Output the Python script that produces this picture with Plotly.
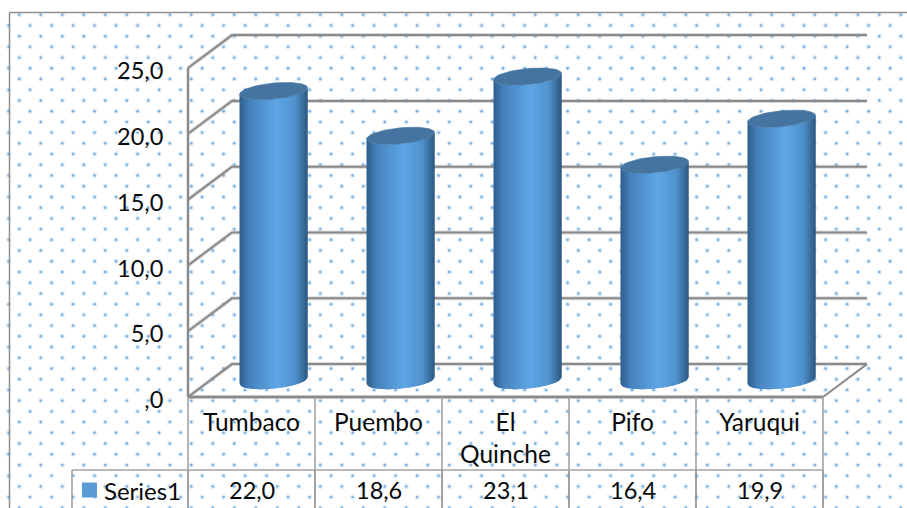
import numpy as np
import plotly.graph_objects as go

# Chart data
categories = ["Tumbaco", "Puembo", "El<br>Quinche", "Pifo", "Yaruqui"]
values = [22.0, 18.6, 23.1, 16.4, 19.9]
value_labels = ["22,0", "18,6", "23,1", "16,4", "19,9"]
series_name = "Series1"
y_ticks = [0, 5, 10, 15, 20, 25]
y_tick_labels = [",0", "5,0", "10,0", "15,0", "20,0", "25,0"]

# Canvas and plot geometry (pixels)
W, H = 907, 508
LEFT, FLOOR = 188, 397
PX_X, PX_Y = 127.0, 13.16
DEPTH_X, DEPTH_Y = 44 / PX_X, 2.5
N = len(categories)
YMAX = 25

FONT = "Lato, Carlito, Calibri, sans-serif"
TEXT = "#0a0a0a"
LINE = "#8a8a8a"
TABLE = "#a3a3a3"


def data_x(px):
    return (np.asarray(px, dtype=float) - LEFT) / PX_X


def data_y(py):
    return (FLOOR - np.asarray(py, dtype=float)) / PX_Y


fig = go.Figure()


def polyline(xs, ys, color, width):
    fig.add_trace(go.Scatter(x=xs, y=ys, mode="lines", hoverinfo="skip",
                             showlegend=False, line=dict(color=color, width=width)))


# Dotted chart-area fill: staggered rows of small soft dots
dot_x, dot_y = [], []
for r in range(48):
    py = 14.7 + 10.72 * r
    if py > H + 2:
        break
    start = 19.3 if r % 2 == 0 else 30.1
    for c in range(-1, 44):
        px = start + 21.5 * c
        if 8 < px < W + 2:
            dot_x.append(px)
            dot_y.append(py)
dx_data, dy_data = data_x(dot_x), data_y(dot_y)
fig.add_trace(go.Scatter(x=dx_data, y=dy_data, mode="markers", hoverinfo="skip",
                         showlegend=False, marker=dict(size=5, color="rgba(125,185,235,0.28)", line_width=0)))
fig.add_trace(go.Scatter(x=dx_data, y=dy_data, mode="markers", hoverinfo="skip",
                         showlegend=False, marker=dict(size=2.4, color="#78aede", line_width=0)))

# Outer chart border
polyline(data_x([9.5, 9.5]), data_y([H, 12.5]), "#8f8f8f", 1.5)
polyline(data_x([9.5, W]), data_y([12.5, 12.5]), "#8f8f8f", 1.5)

# Back-wall gridlines and side-wall diagonals
for v in y_ticks:
    polyline([0, DEPTH_X, N + DEPTH_X], [v, v + DEPTH_Y, v + DEPTH_Y], "rgba(150,150,150,0.35)", 4)
    polyline([0, DEPTH_X, N + DEPTH_X], [v, v + DEPTH_Y, v + DEPTH_Y], LINE, 2)

# Floor edge and front value axis
polyline([0, 0], [YMAX, 0], LINE, 2.5)
polyline([0, N], [0, 0], LINE, 3)
polyline([N, N + DEPTH_X], [0, DEPTH_Y], LINE, 2)

# Data table grid
row_y = float(data_y(470))
bottom_y = float(data_y(H + 2))
for i in range(N + 1):
    polyline([i, i], [0, row_y], TABLE, 1.6)
    polyline([i, i], [row_y, bottom_y], "#8a8a8a", 1.6)
key_x = float(data_x(72))
polyline([key_x, N], [row_y, row_y], TABLE, 1.6)
polyline([key_x, key_x], [row_y, bottom_y], TABLE, 1.6)

# Cylinders: a shaded body painted as overlapping strips, then an elliptical cap
STRIPS = 68
RX = 34 / PX_X
RY = 8.0 / PX_Y
SHEAR = 3.2 / PX_Y
STOPS = [(0.0, (46, 94, 140)), (0.15, (70, 130, 190)), (0.55, (95, 166, 230)),
         (0.82, (80, 145, 205)), (1.0, (44, 88, 128))]


def shade(t):
    pos = [s[0] for s in STOPS]
    rgb = [float(np.interp(t, pos, [s[1][k] for s in STOPS])) for k in range(3)]
    return "rgb(%d,%d,%d)" % tuple(round(c) for c in rgb)


def lower_arc(u, base):
    return base + SHEAR * u - RY * np.sqrt(np.clip(1 - u * u, 0, 1))


edges = np.linspace(-1, 1, STRIPS + 1)
for s in range(STRIPS):
    # Each strip runs past the next one's start so that no seams show through
    u0, u1 = edges[s], edges[min(s + 2, STRIPS)]
    color = shade((s + 0.5) / STRIPS)
    xs, ys = [], []
    for i, v in enumerate(values):
        cx = i + 0.5 + DEPTH_X / 2
        base = DEPTH_Y / 2
        top = v + DEPTH_Y / 2
        xs += [cx + RX * u0, cx + RX * u1, cx + RX * u1, cx + RX * u0, None]
        ys += [lower_arc(u0, base), lower_arc(u1, base), lower_arc(u1, top), lower_arc(u0, top), None]
    fig.add_trace(go.Scatter(x=xs, y=ys, mode="lines", fill="toself", fillcolor=color,
                             hoverinfo="skip", showlegend=False, line=dict(color=color, width=0)))

theta = np.linspace(0, 2 * np.pi, 73)
for i, v in enumerate(values):
    cx = i + 0.5 + DEPTH_X / 2
    top = v + DEPTH_Y / 2
    fig.add_trace(go.Scatter(x=cx + RX * np.cos(theta),
                             y=top + SHEAR * np.cos(theta) + RY * np.sin(theta),
                             mode="lines", fill="toself", fillcolor="#44749f",
                             hoverinfo="skip", showlegend=False, line=dict(color="#44749f", width=0.6)))

# Legend key in the data table
fig.add_trace(go.Scatter(x=data_x([89.5]), y=data_y([490]), mode="markers", hoverinfo="skip",
                         showlegend=False, marker=dict(symbol="square", size=15, color="#5b9bd5", line_width=0)))

annotations = [dict(x=float(data_x(101.5)), y=float(data_y(490)), text=series_name, xref="x", yref="y",
                    xanchor="left", yanchor="middle", showarrow=False,
                    font=dict(family=FONT, size=24, color=TEXT))]
for i, label in enumerate(value_labels):
    annotations.append(dict(x=i + 0.5, y=float(data_y(490)), text=label, xref="x", yref="y",
                            xanchor="center", yanchor="middle", showarrow=False,
                            font=dict(family=FONT, size=23.5, color=TEXT)))

fig.update_layout(
    width=W, height=H, autosize=False,
    margin=dict(l=0, r=0, t=0, b=0),
    paper_bgcolor="white", plot_bgcolor="rgba(0,0,0,0)",
    showlegend=False, annotations=annotations,
    font=dict(family=FONT, color=TEXT),
    xaxis=dict(domain=[0, 1], range=[float(data_x(0)), float(data_x(W))],
               anchor="free", position=(H - FLOOR) / H,
               tickmode="array", tickvals=[i + 0.5 for i in range(N)],
               ticktext=categories, showgrid=False, zeroline=False, showline=False,
               ticks="outside", ticklen=4, tickcolor="rgba(0,0,0,0)", tickangle=0,
               tickfont=dict(family=FONT, size=24.5, color=TEXT), fixedrange=True),
    yaxis=dict(domain=[0, 1], range=[float(data_y(H)), float(data_y(0))],
               anchor="free", position=LEFT / W,
               tickmode="array", tickvals=y_ticks,
               ticktext=y_tick_labels, showgrid=False, zeroline=False, showline=False,
               ticks="outside", ticklen=20, tickcolor="rgba(0,0,0,0)",
               ticklabelshift=3,
               tickfont=dict(family=FONT, size=23.5, color=TEXT), fixedrange=True),
)

fig.write_html("out.html", config={"displayModeBar": False})
